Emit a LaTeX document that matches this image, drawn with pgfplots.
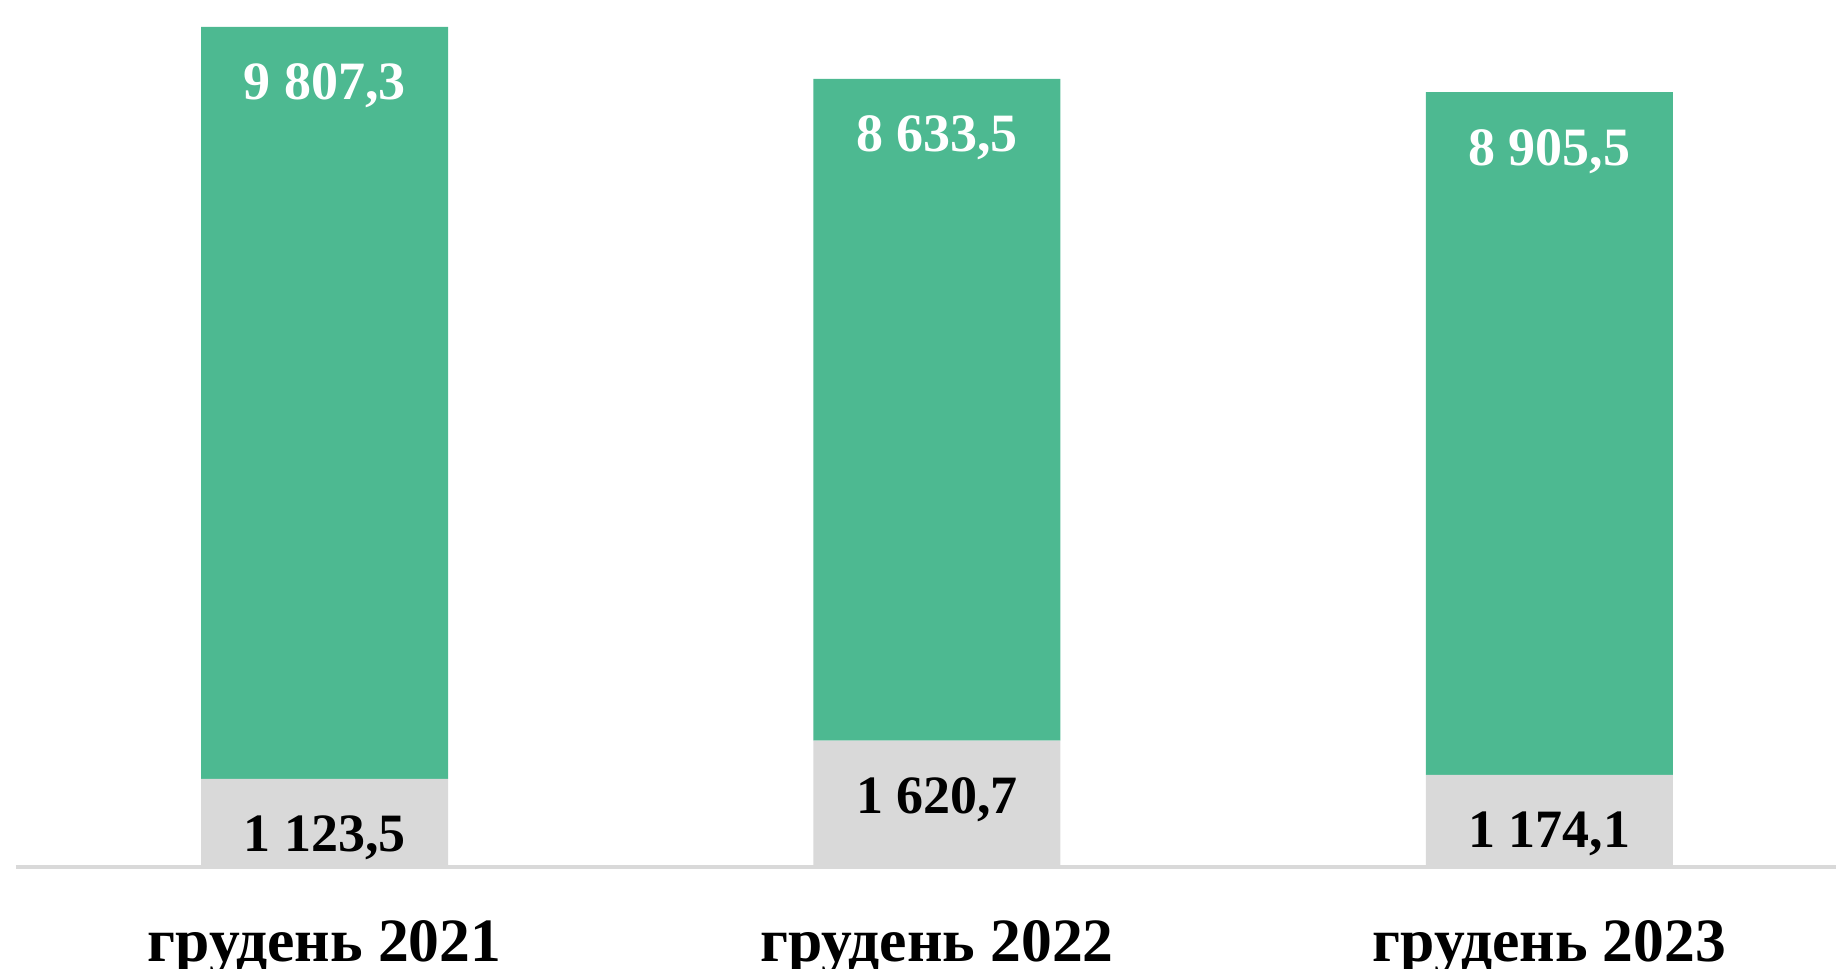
\documentclass[border=0pt]{standalone}
\usepackage{pgfplots}
\pgfplotsset{compat=1.18}
\usepackage{fontspec}
\setmainfont{Liberation Serif}
\definecolor{barGreen}{HTML}{4DB991}
\definecolor{barGrey}{HTML}{D9D9D9}
\begin{document}
\begin{tikzpicture}
\begin{axis}[name=ax, at={(0,0)}, anchor=south west,
  scale only axis, width=455pt, height=216.25pt,
  xmin=-0.5037, xmax=2.4678, ymin=0, ymax=11283,
  ybar stacked, bar width=61.75pt,
  axis x line*=bottom, axis y line=none,
  x axis line style={draw=none},
  xtick={0,1,2}, xticklabels={грудень 2021, грудень 2022, грудень 2023},
  major tick length=0pt, xtick style={draw=none},
  ytick=\empty,
  xticklabel style={font=\fontsize{15.4}{18}\selectfont\bfseries, anchor=base, yshift=-24.25pt},
  nodes near coords,
  visualization depends on=rawy \as \rawy,
  nodes near coords style={anchor=base, yshift={\rawy*0.0095831-18.25}, inner sep=0pt,
    font=\fontsize{13.5}{16}\selectfont\bfseries,
    /pgf/number format/fixed, /pgf/number format/fixed zerofill,
    /pgf/number format/precision=1, /pgf/number format/use comma,
    /pgf/number format/1000 sep={\ }, /pgf/number format/assume math mode=true},
  clip=false]
\addplot[fill=barGrey, draw=none, nodes near coords style={text=black}]
  coordinates {(0,1123.5) (1,1620.7) (2,1174.1)};
\addplot[fill=barGreen, draw=none, nodes near coords style={text=white}]
  coordinates {(0,9807.3) (1,8633.5) (2,8905.5)};
\draw[barGrey, line width=1pt, yshift=-0.5pt] (rel axis cs:0,0) -- (rel axis cs:1,0);
\end{axis}
\pgfresetboundingbox
\path[use as bounding box] (-4pt,-26pt) rectangle (455pt,216.25pt);
\end{tikzpicture}
\end{document}
